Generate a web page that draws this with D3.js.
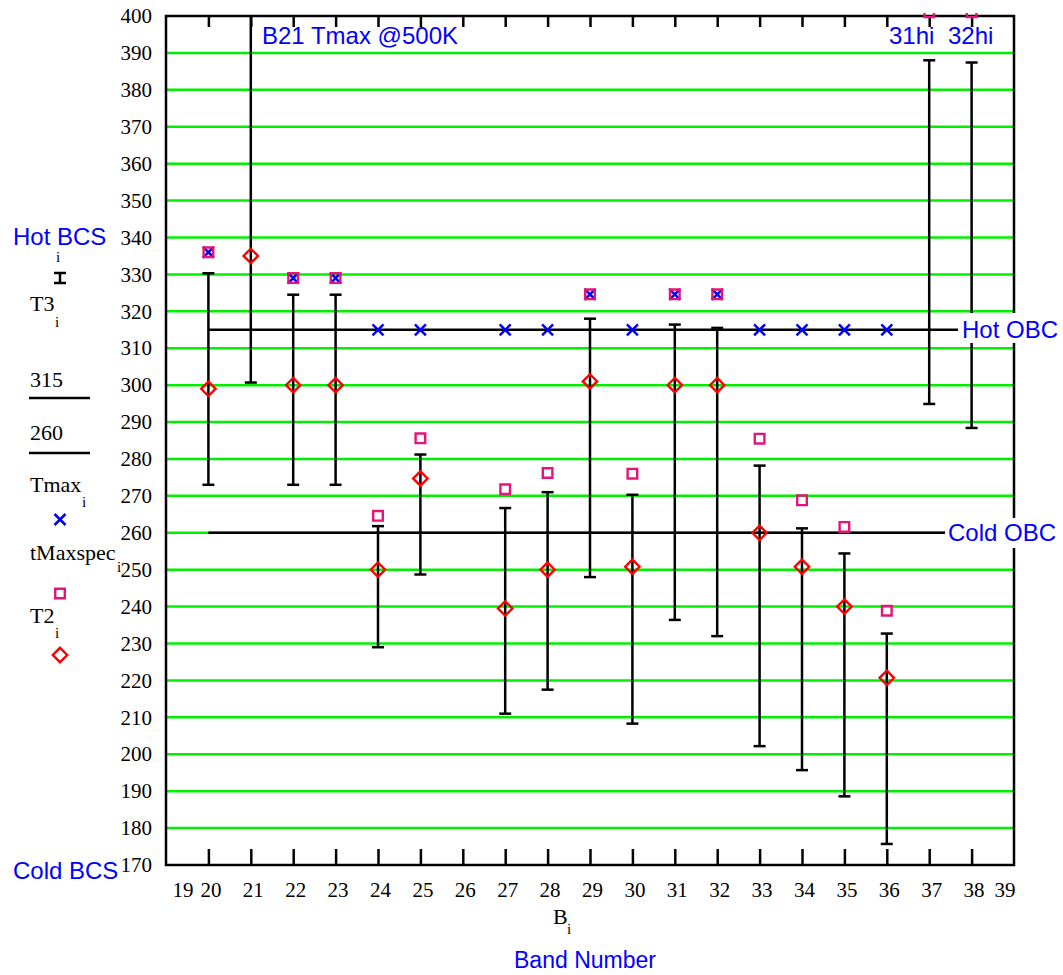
<!DOCTYPE html>
<html>
<head>
<meta charset="utf-8">
<script src="https://cdn.jsdelivr.net/npm/d3@7"></script>
<style>
  body { margin: 0; background: #fff; }
  svg { display: block; }
</style>
</head>
<body>
<svg id="chart" width="1063" height="975"></svg>
<script>
// Band numbers and the temperatures (K) plotted for each band
const bands    = [20, 21, 22, 23, 24, 25, 26, 27, 28, 29, 30, 31, 32, 33, 34, 35, 36, 37, 38];
const t3Low    = [273, 300.7, 273, 273, 229, 248.7, null, 211, 217.5, 248, 208.3, 236.4, 232, 202.2, 195.7, 188.6, 175.7, 294.9, 288.4];
const t3High   = [330.3, 420, 324.5, 324.5, 261.8, 281.2, null, 266.7, 271, 318, 270.3, 316.4, 315.5, 278.2, 261.2, 254.4, 232.7, 388, 387.4];
const t2       = [299, 335, 300, 300, 250, 274.7, null, 239.5, 250, 301, 250.8, 300, 300, 260, 250.8, 240, 220.7, 410, 410];
const tMaxSpec = [336, 500, 329, 329, 264.6, 285.6, null, 271.8, 276.2, 324.6, 276, 324.6, 324.6, 285.5, 268.8, 261.6, 238.9, 401, 401];
const tMax     = [336, 500, 329, 329, 315, 315, null, 315, 315, 324.6, 315, 324.6, 324.6, 315, 315, 315, 315, null, null];

// Reference levels
const hotOBC = 315;
const coldOBC = 260;
const obcSpan = [20, 39];

// Axis ticks
const xTickValues = d3.range(19, 40);
const yTickValues = d3.range(170, 401, 10);
const gridValues = d3.range(180, 400, 10);

const svg = d3.select("#chart");
const plotLeft = 166, plotRight = 1014, plotTop = 16, plotBottom = 865;

const x = d3.scaleLinear().domain([19, 39]).range([plotLeft, plotRight]);
const y = d3.scaleLinear().domain([170, 400]).range([plotBottom, plotTop]);

const serif = "'Liberation Serif', 'Times New Roman', serif";
const sans = "'Liberation Sans', Arial, Helvetica, sans-serif";
const BLUE = "#0000ff", PINK = "#e6147a", RED = "#ff0000", GREEN = "#00f000";

const defs = svg.append("defs");
defs.append("clipPath").attr("id", "plotClip")
  .append("rect").attr("x", plotLeft).attr("y", plotTop)
  .attr("width", plotRight - plotLeft).attr("height", plotBottom - plotTop);
defs.append("clipPath").attr("id", "markClip")
  .append("rect").attr("x", plotLeft).attr("y", plotTop - 3)
  .attr("width", plotRight - plotLeft).attr("height", plotBottom - plotTop + 3);

// Marker path builders
const squarePath = (s) => `M${-s},${-s}H${s}V${s}H${-s}Z`;
const diamondPath = (s) => `M0,${-s}L${s},0L0,${s}L${-s},0Z`;
const timesPath = (s) => `M${-s},${-s}L${s},${s}M${-s},${s}L${s},${-s}`;

// Horizontal grid
svg.append("g").selectAll("line").data(gridValues).join("line")
  .attr("x1", plotLeft).attr("x2", plotRight)
  .attr("y1", d => y(d)).attr("y2", d => y(d))
  .attr("stroke", GREEN).attr("stroke-width", 2.5);

// Y axis labels
const yAxis = d3.axisLeft(y).tickValues(yTickValues).tickSize(0).tickPadding(14).tickFormat(d3.format("d"));
const gy = svg.append("g").attr("transform", `translate(${plotLeft},0)`).call(yAxis);
gy.select(".domain").remove();
gy.selectAll("text").attr("font-family", serif).attr("font-size", 21).attr("fill", "#000");

// X axis: inward ticks and labels
const xAxis = d3.axisBottom(x).tickValues(xTickValues).tickSizeInner(-16).tickSizeOuter(0).tickPadding(17).tickFormat(d3.format("d"));
const gx = svg.append("g").attr("transform", `translate(0,${plotBottom})`).call(xAxis);
gx.select(".domain").remove();
gx.selectAll("line").attr("stroke", "#000").attr("stroke-width", 2.5)
  .filter(d => d === 19 || d === 39).remove();
gx.selectAll("text").attr("font-family", serif).attr("font-size", 21).attr("fill", "#000")
  .attr("text-anchor", d => d === 19 ? "start" : d === 39 ? "end" : "middle")
  .attr("x", d => d === 19 ? 6 : d === 39 ? 1 : 2);

const xTop = d3.axisTop(x).tickValues(xTickValues.filter(d => d > 19 && d < 39)).tickSizeInner(-11).tickSizeOuter(0).tickFormat("");
const gt = svg.append("g").attr("transform", `translate(0,${plotTop})`).call(xTop);
gt.select(".domain").remove();
gt.selectAll("line").attr("stroke", "#000").attr("stroke-width", 2.5);

// Frame
svg.append("rect").attr("x", plotLeft).attr("y", plotTop)
  .attr("width", plotRight - plotLeft).attr("height", plotBottom - plotTop)
  .attr("fill", "none").attr("stroke", "#000").attr("stroke-width", 2.5);

// OBC reference lines
svg.append("g").selectAll("line").data([hotOBC, coldOBC]).join("line")
  .attr("x1", x(obcSpan[0])).attr("x2", x(obcSpan[1]))
  .attr("y1", d => y(d)).attr("y2", d => y(d))
  .attr("stroke", "#000").attr("stroke-width", 2.5);

// Error bars (T3)
const rows = bands.map((b, i) => ({ b, lo: t3Low[i], hi: t3High[i], t2: t2[i], spec: tMaxSpec[i], tmax: tMax[i] }));
const bars = svg.append("g").attr("clip-path", "url(#plotClip)")
  .selectAll("g").data(rows.filter(d => d.lo != null)).join("g");
bars.append("line")
  .attr("x1", d => x(d.b)).attr("x2", d => x(d.b))
  .attr("y1", d => y(d.lo)).attr("y2", d => y(d.hi))
  .attr("stroke", "#000").attr("stroke-width", 2.5);
bars.append("line")
  .attr("x1", d => x(d.b) - 6).attr("x2", d => x(d.b) + 6)
  .attr("y1", d => y(d.lo)).attr("y2", d => y(d.lo))
  .attr("stroke", "#000").attr("stroke-width", 2.5);
bars.append("line")
  .attr("x1", d => x(d.b) - 6).attr("x2", d => x(d.b) + 6)
  .attr("y1", d => y(d.hi)).attr("y2", d => y(d.hi))
  .attr("stroke", "#000").attr("stroke-width", 2.5);

const marks = svg.append("g").attr("clip-path", "url(#markClip)");

// Tmax crosses
marks.append("g").selectAll("path").data(rows.filter(d => d.tmax != null)).join("path")
  .attr("transform", d => `translate(${x(d.b)},${y(d.tmax)})`)
  .attr("d", timesPath(5.5)).attr("fill", "none").attr("stroke", BLUE).attr("stroke-width", 2.5);

// tMaxspec squares
marks.append("g").selectAll("path").data(rows.filter(d => d.spec != null)).join("path")
  .attr("transform", d => `translate(${x(d.b)},${y(d.spec)})`)
  .attr("d", squarePath(4.8)).attr("fill", "none").attr("stroke", PINK).attr("stroke-width", 2.4);

// T2 diamonds
marks.append("g").selectAll("path").data(rows.filter(d => d.t2 != null)).join("path")
  .attr("transform", d => `translate(${x(d.b)},${y(d.t2)})`)
  .attr("d", diamondPath(7.2)).attr("fill", "none").attr("stroke", RED).attr("stroke-width", 2.4);

// Annotations with white backing
function boxedLabel(text, tx, ty, box) {
  svg.append("rect").attr("x", box[0]).attr("y", box[1]).attr("width", box[2]).attr("height", box[3]).attr("fill", "#fff");
  svg.append("text").attr("x", tx).attr("y", ty).text(text)
    .attr("font-family", sans).attr("font-size", 24).attr("fill", BLUE);
}
boxedLabel("Hot OBC", 962, 338, [958, 313, 105, 30]);
boxedLabel("Cold OBC", 948, 541, [945, 518, 118, 30]);

function blueText(text, tx, ty, anchor, size) {
  svg.append("text").attr("x", tx).attr("y", ty).text(text)
    .attr("text-anchor", anchor || "start")
    .attr("font-family", sans).attr("font-size", size || 24).attr("fill", BLUE);
}
blueText("B21 Tmax @500K", 262, 44);
blueText("31hi", 889, 44);
blueText("32hi", 948, 44);
blueText("Hot BCS", 13, 245);
blueText("Cold BCS", 13, 879);
blueText("Band Number", 585, 968, "middle", 23);

// X axis expression label
function serifText(text, tx, ty, size) {
  svg.append("text").attr("x", tx).attr("y", ty).text(text)
    .attr("font-family", serif).attr("font-size", size).attr("fill", "#000");
}
serifText("B", 553, 924, 22);
serifText("i", 567, 934, 15);

// Legend
const lg = svg.append("g");
serifText("i", 56, 262, 15);
lg.append("line").attr("x1", 60).attr("x2", 60).attr("y1", 273).attr("y2", 283).attr("stroke", "#000").attr("stroke-width", 2.5);
lg.append("line").attr("x1", 54).attr("x2", 66).attr("y1", 273).attr("y2", 273).attr("stroke", "#000").attr("stroke-width", 2.5);
lg.append("line").attr("x1", 54).attr("x2", 66).attr("y1", 283).attr("y2", 283).attr("stroke", "#000").attr("stroke-width", 2.5);
serifText("T3", 30, 311, 22);
serifText("i", 55, 327, 15);

serifText(String(hotOBC), 30, 387, 22);
lg.append("line").attr("x1", 29).attr("x2", 90).attr("y1", 398).attr("y2", 398).attr("stroke", "#000").attr("stroke-width", 2.5);
serifText(String(coldOBC), 30, 440, 22);
lg.append("line").attr("x1", 29).attr("x2", 90).attr("y1", 453).attr("y2", 453).attr("stroke", "#000").attr("stroke-width", 2.5);

serifText("Tmax", 30, 492, 22);
serifText("i", 82, 507, 15);
lg.append("path").attr("transform", "translate(60,519.5)").attr("d", timesPath(5.5))
  .attr("fill", "none").attr("stroke", BLUE).attr("stroke-width", 2.5);

serifText("tMaxspec", 30, 560, 22);
serifText("i", 117, 572, 15);
lg.append("path").attr("transform", "translate(60,593.5)").attr("d", squarePath(4.8))
  .attr("fill", "none").attr("stroke", PINK).attr("stroke-width", 2.4);

serifText("T2", 30, 623, 22);
serifText("i", 55, 638, 15);
lg.append("path").attr("transform", "translate(60,655)").attr("d", diamondPath(7.2))
  .attr("fill", "none").attr("stroke", RED).attr("stroke-width", 2.4);
</script>
</body>
</html>
